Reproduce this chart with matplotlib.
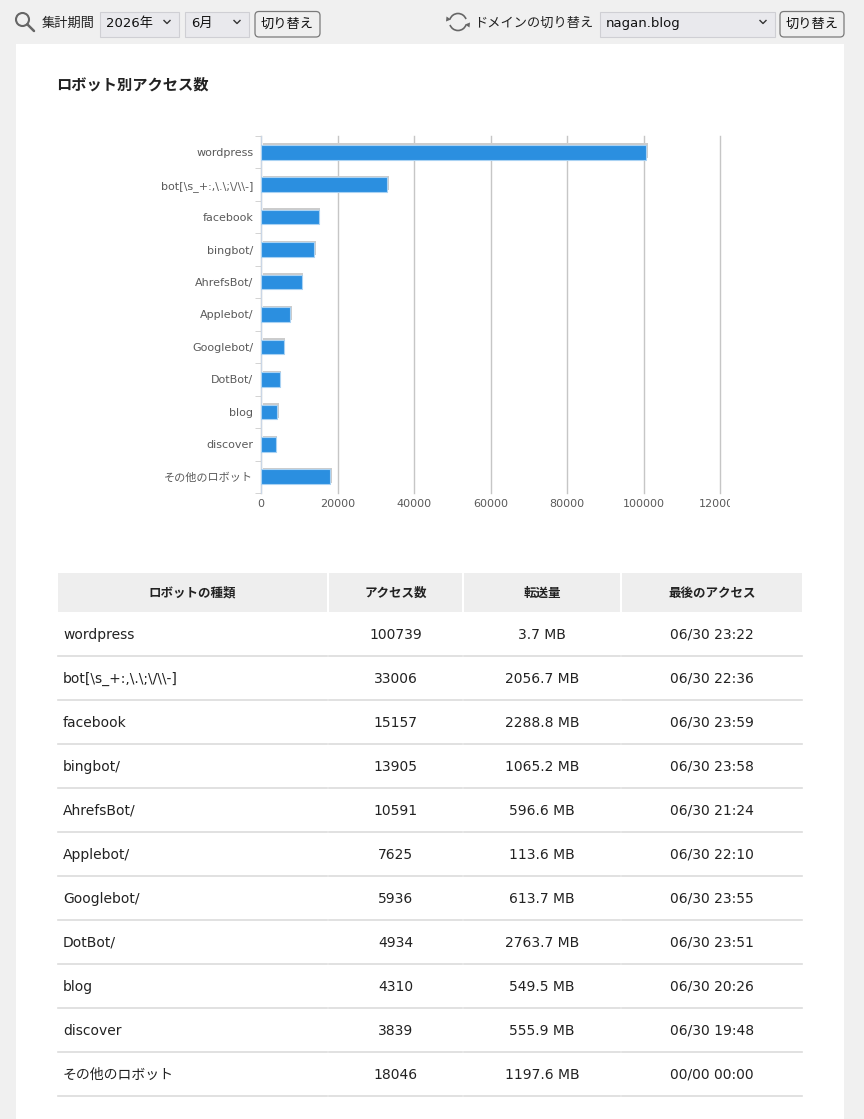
import numpy as np
import matplotlib
matplotlib.use('Agg')
import matplotlib.pyplot as plt
from matplotlib.patches import Rectangle, FancyBboxPatch, Arc, Circle, Polygon
from matplotlib.transforms import Bbox, TransformedBbox, IdentityTransform, offset_copy

plt.rcParams['font.family'] = ['DejaVu Sans', 'Noto Sans CJK JP']

# data
robots = ['wordpress', 'bot[\\s_+:,\\.\\;\\/\\\\-]', 'facebook', 'bingbot/', 'AhrefsBot/',
          'Applebot/', 'Googlebot/', 'DotBot/', 'blog', 'discover', 'その他のロボット']
access = [100739, 33006, 15157, 13905, 10591, 7625, 5936, 4934, 4310, 3839, 18046]
transfer = ['3.7 MB', '2056.7 MB', '2288.8 MB', '1065.2 MB', '596.6 MB', '113.6 MB',
            '613.7 MB', '2763.7 MB', '549.5 MB', '555.9 MB', '1197.6 MB']
last_access = ['06/30 23:22', '06/30 22:36', '06/30 23:59', '06/30 23:58', '06/30 21:24',
               '06/30 22:10', '06/30 23:55', '06/30 23:51', '06/30 20:26', '06/30 19:48',
               '00/00 00:00']
x_ticks = [0, 20000, 40000, 60000, 80000, 100000, 120000]
headers = ['ロボットの種類', 'アクセス数', '転送量', '最後のアクセス']

W, H = 864, 1119
fig = plt.figure(figsize=(W / 100, H / 100), dpi=100)
fig.patch.set_facecolor('#f0f0f0')

bg = fig.add_axes([0, 0, 1, 1])
bg.set_xlim(0, W)
bg.set_ylim(H, 0)
bg.axis('off')


def px(x0, y0, x1, y1):
    return [x0 / W, 1 - y1 / H, (x1 - x0) / W, (y1 - y0) / H]


def chevron(cx, cy):
    bg.plot([cx - 3, cx, cx + 3], [cy - 1.5, cy + 1.5, cy - 1.5], color='#333333', lw=1)


def dropdown(x0, x1, label, fs):
    bg.add_patch(Rectangle((x0, 12), x1 - x0, 25, fc='#e9e9ed', ec='#cfcfd4', lw=0.8))
    bg.text(x0 + 6, 23.5, label, fontsize=fs, va='center', color='#111111')
    chevron(x1 - 12, 22)


def button(x0, x1):
    bg.add_patch(FancyBboxPatch((x0, 11.5), x1 - x0, 25.5, boxstyle='round,pad=0,rounding_size=4',
                                fc='#efefef', ec='#7a7a7a', lw=0.9))
    bg.text((x0 + x1) / 2, 24, '切り替え', fontsize=9.5, ha='center', va='center', color='#111111')


# top bar
bg.add_patch(Circle((22.5, 19.5), 6.5, fill=False, ec='#666666', lw=1.5))
bg.plot([27.3, 34], [24.3, 31], color='#666666', lw=1.8, solid_capstyle='round')
bg.text(42, 23.5, '集計期間', fontsize=9.5, va='center', color='#222222')
dropdown(100, 179, '2026年', 9.5)
dropdown(185, 249, '6月', 9.5)
button(255, 320)

bg.add_patch(Arc((458, 22), 17, 17, theta1=200, theta2=340, ec='#666666', lw=1.2))
bg.add_patch(Arc((458, 22), 17, 17, theta1=20, theta2=160, ec='#666666', lw=1.2))
bg.add_patch(Polygon([[446.5, 16.5], [451, 19.5], [446, 21.5]], closed=True, fc='#666666', ec='none'))
bg.add_patch(Polygon([[469.5, 27.5], [465, 24.5], [470, 22.5]], closed=True, fc='#666666', ec='none'))
bg.text(474, 23, 'ドメインの切り替え', fontsize=9.5, va='center', color='#222222')
dropdown(600, 775, 'nagan.blog', 9.5)
button(780, 844)

# panel
bg.add_patch(Rectangle((16, 44), 828, H - 44, fc='white', ec='none'))
bg.text(56, 85, 'ロボット別アクセス数', fontsize=11, fontweight='bold', va='center', color='#222222')

# chart
ax = fig.add_axes(px(261, 136, 720, 493))
ax.set_facecolor('none')
ypos = np.arange(len(robots))
shadow = offset_copy(ax.transData, fig=fig, x=1.5, y=1.5, units='dots')
ax.barh(ypos, access, height=0.45, color='#cccccc', transform=shadow, zorder=2)
ax.barh(ypos, access, height=0.45, color='#2b8fe0', edgecolor='#a9d2f3', linewidth=0.8, zorder=3)
ax.set_xlim(0, 120000)
ax.set_ylim(len(robots) - 0.5, -0.5)
ax.set_xticks(x_ticks)
ax.set_xticklabels([str(v) for v in x_ticks])
ax.grid(axis='x', color='#c6c6c6', lw=1)
ax.set_axisbelow(True)
ax.set_yticks(ypos)
ax.set_yticklabels(robots)
ax.set_yticks(np.arange(-0.5, len(robots)), minor=True)
ax.tick_params(axis='y', which='major', length=0, pad=5.5, labelsize=8, labelcolor='#5a5a5a')
ax.tick_params(axis='y', which='minor', length=4, color='#cccccc')
ax.tick_params(axis='x', length=0, pad=4, labelsize=8, labelcolor='#5a5a5a')
for s in ['top', 'right', 'bottom']:
    ax.spines[s].set_visible(False)
ax.spines['left'].set_color('#c9d6e6')

fig.canvas.draw()
clip = TransformedBbox(Bbox([[0, 0], [730, H]]), IdentityTransform())
for lab in ax.get_xticklabels():
    lab.set_clip_box(clip)
    lab.set_clip_on(True)
for gl in ax.get_xgridlines():
    gl.set_clip_on(False)

# table
cols = [(58, 327), (329, 462), (464, 620), (622, 802)]
for (x0, x1), h in zip(cols, headers):
    bg.add_patch(Rectangle((x0, 573), x1 - x0, 39, fc='#eeeeee', ec='none'))
    bg.text((x0 + x1) / 2, 593, h, fontsize=9, fontweight='bold', ha='center', va='center',
            color='#222222')

for i in range(len(robots)):
    yc = 635 + 44 * i
    yl = 656 + 44 * i
    bg.text(63, yc, robots[i], fontsize=10, va='center', color='#222222')
    bg.text(sum(cols[1]) / 2, yc, str(access[i]), fontsize=10, ha='center', va='center', color='#222222')
    bg.text(sum(cols[2]) / 2, yc, transfer[i], fontsize=10, ha='center', va='center', color='#222222')
    bg.text(sum(cols[3]) / 2, yc, last_access[i], fontsize=10, ha='center', va='center', color='#222222')
    for x0, x1 in cols:
        bg.plot([x0, x1], [yl, yl], color='#dcdcdc', lw=1.2)

fig.savefig('out.png', dpi=100, facecolor=fig.get_facecolor())
